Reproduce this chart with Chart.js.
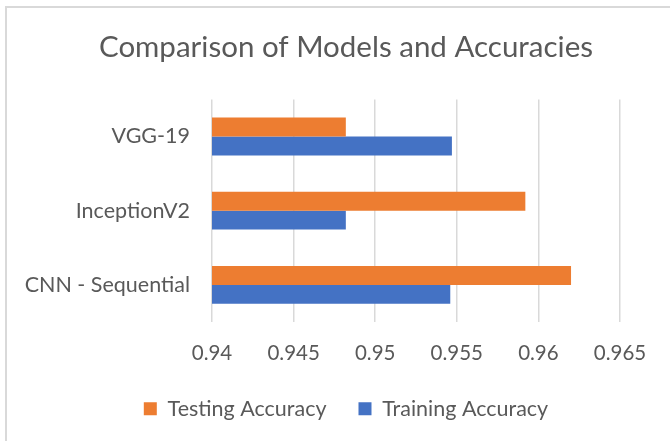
<!DOCTYPE html>
<html>
<head>
<meta charset="utf-8">
<script src="https://cdn.jsdelivr.net/npm/chart.js@4"></script>
<style>
    html, body { margin: 0; padding: 0; background: #fff; }
    .frame {
        position: absolute;
        left: 5px;
        top: 6px;
        width: 700px;
        height: 460px;
        border-left: 2px solid #d9d9d9;
        border-top: 2px solid #d9d9d9;
    }
    #chart { position: absolute; left: 0; top: 0; }
</style>
</head>
<body>
<div class="frame"></div>
<canvas id="chart" width="670" height="441"></canvas>
<script>
const models = ['VGG-19', 'InceptionV2', 'CNN - Sequential'];
const testingAccuracy = [0.9482, 0.9592, 0.9620];
const trainingAccuracy = [0.9547, 0.9482, 0.9546];
const xTicks = [0.94, 0.945, 0.95, 0.955, 0.96, 0.965];

const textColor = '#595959';
const fontFamily = "Lato, 'Open Sans', sans-serif";

// title and legend sit centred on the whole frame, not on the padded box
const centerShift = {
    id: 'centerShift',
    afterLayout(chart) {
        [chart.titleBlock, chart.legend].forEach(box => {
            if (!box) return;
            box.left += 32;
            box.right += 32;
        });
    }
};

document.addEventListener('DOMContentLoaded', () => {
    const ctx = document.getElementById('chart').getContext('2d');
    new Chart(ctx, {
        type: 'bar',
        data: {
            labels: models,
            datasets: [
                {
                    label: 'Testing Accuracy',
                    data: testingAccuracy,
                    backgroundColor: '#ED7D31',
                    categoryPercentage: 0.51,
                    barPercentage: 1
                },
                {
                    label: 'Training Accuracy',
                    data: trainingAccuracy,
                    backgroundColor: '#4472C4',
                    categoryPercentage: 0.51,
                    barPercentage: 1
                }
            ]
        },
        options: {
            indexAxis: 'y',
            responsive: false,
            animation: false,
            layout: { padding: { left: 8, right: 50, top: 0, bottom: 11.5 } },
            plugins: {
                title: {
                    display: true,
                    text: 'Comparison of Models and Accuracies',
                    color: textColor,
                    font: { family: fontFamily, size: 29.5, weight: 'normal' },
                    padding: { top: 30, bottom: 34 }
                },
                legend: {
                    position: 'bottom',
                    labels: {
                        color: textColor,
                        font: { family: fontFamily, size: 21.5 },
                        boxWidth: 13,
                        boxHeight: 13,
                        padding: 32
                    }
                },
                tooltip: { enabled: false }
            },
            scales: {
                x: {
                    min: xTicks[0],
                    max: xTicks[xTicks.length - 1],
                    afterBuildTicks: (scale) => {
                        scale.ticks = xTicks.map(v => ({ value: v }));
                    },
                    afterFit: (scale) => { scale.height = 44; },
                    border: { display: false },
                    grid: { color: '#d9d9d9', lineWidth: 1.5, drawTicks: false },
                    ticks: {
                        color: textColor,
                        font: { family: fontFamily, size: 20.5 },
                        padding: 19,
                        callback: (value) => String(Number(value.toFixed(3)))
                    }
                },
                y: {
                    border: { display: false },
                    grid: { display: false },
                    afterFit: (scale) => { scale.width = 204; },
                    ticks: {
                        color: textColor,
                        font: { family: fontFamily, size: 21.5 },
                        padding: 14
                    }
                }
            }
        },
        plugins: [centerShift]
    });
});
</script>
</body>
</html>
